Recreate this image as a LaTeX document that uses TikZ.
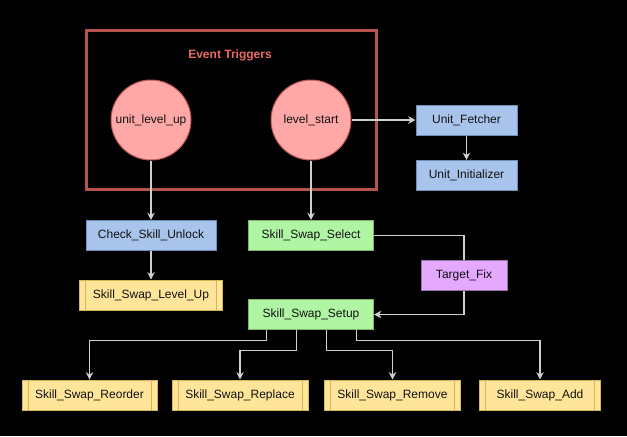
\documentclass[tikz,border=0pt]{standalone}
\usepackage{fontspec}
\setmainfont{Liberation Sans}
\usetikzlibrary{arrows.meta,calc}
\definecolor{bluefill}{HTML}{A9C4EB}
\definecolor{bluestroke}{HTML}{6C8EBF}
\definecolor{greenfill}{HTML}{B0F5A3}
\definecolor{greenstroke}{HTML}{82B366}
\definecolor{yellowfill}{HTML}{FFE599}
\definecolor{yellowstroke}{HTML}{D6B656}
\definecolor{purplefill}{HTML}{E5A8FF}
\definecolor{purplestroke}{HTML}{9673A6}
\definecolor{redfill}{HTML}{FFA8A8}
\definecolor{redstroke}{HTML}{B85450}
\definecolor{titlecol}{HTML}{EA6B66}
\definecolor{linecol}{HTML}{D0D0D0}
\definecolor{textcol}{HTML}{111111}
\tikzset{
  base/.style={rectangle, inner sep=0pt, minimum height=30*0.75pt, line width=0.75pt,
    font=\fontsize{9}{11}\selectfont, text=textcol},
  bluebox/.style={base, fill=bluefill, draw=bluestroke, minimum width=#1*0.75pt},
  greenbox/.style={base, fill=greenfill, draw=greenstroke, minimum width=#1*0.75pt},
  purplebox/.style={base, fill=purplefill, draw=purplestroke, minimum width=#1*0.75pt},
  procbox/.style={base, fill=yellowfill, draw=yellowstroke, minimum width=#1*0.75pt,
    path picture={
      \draw[yellowstroke, line width=0.75pt]
        ([xshift=4.5pt]path picture bounding box.north west) -- ([xshift=4.5pt]path picture bounding box.south west)
        ([xshift=-4.5pt]path picture bounding box.north east) -- ([xshift=-4.5pt]path picture bounding box.south east);
    }},
  trigger/.style={circle, inner sep=0pt, minimum size=80*0.75pt, fill=redfill, draw=redstroke,
    line width=0.75pt, font=\fontsize{9}{11}\selectfont, text=textcol},
  conn/.style={draw=linecol, line width=0.9pt},
  arr/.style={conn, -{Stealth[length=5.5pt,width=5.5pt,inset=1.8pt,fill=white]}},
}
\begin{document}
\begin{tikzpicture}[x=0.75pt, y=-0.75pt]
\fill[black] (0,0) rectangle (627,436);
\useasboundingbox (0,0) rectangle (627,436);

% group box
\node[draw=redstroke, line width=2.25pt, minimum width=290*0.75pt, minimum height=159*0.75pt, inner sep=0pt] (group) at (231,109.5) {};
\node[font=\bfseries\fontsize{9}{11}\selectfont, text=titlecol] (title) at (230,55) {Event Triggers};

\node[trigger] (ulu) at (151,120) {unit\_level\_up};
\node[trigger] (ls) at (311,120) {level\_start};

\node[bluebox=101] (fetch) at (466.5,120) {Unit\_Fetcher};
\node[bluebox=101] (init) at (466.5,175.5) {Unit\_Initializer};

\node[bluebox=130] (check) at (151,235.5) {Check\_Skill\_Unlock};
\node[procbox=143] (levelup) at (151,295) {Skill\_Swap\_Level\_Up};

\node[greenbox=125] (select) at (311,235.5) {Skill\_Swap\_Select};
\node[purplebox=86] (tfix) at (464,275.5) {Target\_Fix};
\node[greenbox=125] (setup) at (311,314.5) {Skill\_Swap\_Setup};

\node[procbox=135] (reorder) at (89.5,395) {Skill\_Swap\_Reorder};
\node[procbox=136] (replace) at (240,395) {Skill\_Swap\_Replace};
\node[procbox=136] (remove) at (392.5,395) {Skill\_Swap\_Remove};
\node[procbox=121] (add) at (540,395) {Skill\_Swap\_Add};

% connectors
\draw[arr] (ls.east) -- (fetch.west);
\draw[arr] (fetch.south) -- (init.north);
\draw[arr] (ulu.south) -- (ulu.south |- check.north);
\draw[arr] (check.south) -- (levelup.north);
\draw[arr] (ls.south) -- (ls.south |- select.north);
\draw[conn] (select.east) -| (tfix.north);
\draw[arr] (tfix.south) |- (setup.east);

\coordinate (e1) at ($(setup.south)+(-44.5,0)$);
\coordinate (e2) at ($(setup.south)+(-14.5,0)$);
\coordinate (e3) at ($(setup.south)+(15.5,0)$);
\coordinate (e4) at ($(setup.south)+(45.5,0)$);
\draw[arr] (e1) -- ++(0,10.5) -| (reorder.north);
\draw[arr] (e2) -- ++(0,20.5) -| (replace.north);
\draw[arr] (e3) -- ++(0,20.5) -| (remove.north);
\draw[arr] (e4) -- ++(0,10.5) -| (add.north);
\end{tikzpicture}
\end{document}
